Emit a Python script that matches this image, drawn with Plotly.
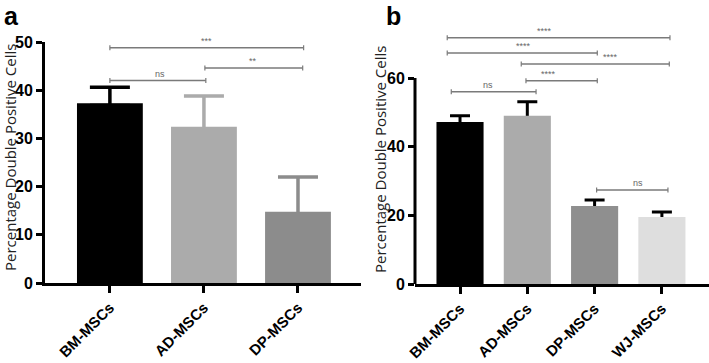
import plotly.graph_objects as go

# ---------------- data ----------------
cats_a = ["BM-MSCs", "AD-MSCs", "DP-MSCs"]
mean_a = [37.3, 32.4, 14.8]
err_a = [3.3, 6.4, 7.2]
colors_a = ["#000000", "#ababab", "#8c8c8c"]

cats_b = ["BM-MSCs", "AD-MSCs", "DP-MSCs", "WJ-MSCs"]
mean_b = [47.2, 49.0, 22.7, 19.5]
err_b = [1.8, 4.1, 1.8, 1.5]
colors_b = ["#000000", "#ababab", "#8f8f8f", "#dedede"]

# significance brackets: start / end position (category units), level, label, label position
sig_a_x0 = [0.0, 1.01, 0.0]
sig_a_x1 = [2.06, 2.05, 1.02]
sig_a_y = [48.8, 44.6, 42.0]
sig_a_lab = ["***", "**", "ns"]
sig_a_labx = [1.03, 1.52, 0.53]

sig_b_x0 = [-0.19, -0.19, 0.91, 0.98, -0.13, 2.03]
sig_b_x1 = [3.12, 2.04, 3.11, 2.04, 1.13, 3.09]
sig_b_y = [71.7, 67.3, 64.1, 59.2, 56.0, 27.4]
sig_b_lab = ["****", "****", "****", "****", "ns", "ns"]
sig_b_labx = [1.26, 0.94, 2.23, 1.31, 0.42, 2.64]

yticks_a = [0, 10, 20, 30, 40, 50]
yticks_b = [0, 20, 40, 60]
ytitle = "Percentage Double Positive Cells"

TICKFONT = dict(family="Liberation Sans Narrow, Arial Narrow, Liberation Sans, Arial, sans-serif",
                size=16, color="#000000", weight="bold")
XTICKFONT = dict(family="Liberation Sans, Arial, sans-serif", size=15, color="#000000", weight="bold")

fig = go.Figure()

# Panel a: error bars in the bar colour (helper traces drawn behind the bars)
xs_a = list(range(len(cats_a)))
shift_a = 0.5
for i in xs_a:
    fig.add_trace(go.Bar(
        x=[i], y=[mean_a[i] - shift_a], width=0.7,
        marker=dict(color="rgba(0,0,0,0)", line=dict(width=0)),
        error_y=dict(type="data", symmetric=False, array=[err_a[i] + shift_a], arrayminus=[0],
                     color=colors_a[i], thickness=3.5, width=20),
        xaxis="x", yaxis="y", showlegend=False, hoverinfo="skip"))
fig.add_trace(go.Bar(
    x=xs_a, y=mean_a, width=0.7,
    marker=dict(color=colors_a, line=dict(width=0)),
    xaxis="x", yaxis="y", showlegend=False))

# Panel b: black error bars
xs_b = list(range(len(cats_b)))
shift_b = 0.7
fig.add_trace(go.Bar(
    x=xs_b, y=[m - shift_b for m in mean_b], width=0.7,
    marker=dict(color="rgba(0,0,0,0)", line=dict(width=0)),
    error_y=dict(type="data", symmetric=False, array=[e + shift_b for e in err_b],
                 arrayminus=[0] * len(err_b), color="#000000", thickness=3, width=10),
    xaxis="x2", yaxis="y2", showlegend=False, hoverinfo="skip"))
fig.add_trace(go.Bar(
    x=xs_b, y=mean_b, width=0.7,
    marker=dict(color=colors_b, line=dict(width=0)),
    xaxis="x2", yaxis="y2", showlegend=False))

shapes = []
annotations = []
SIGC = "#7a7a7a"

def add_sig(xref, yref, x0s, x1s, ys, labs, labxs, lab_size):
    for x0, x1, y, lab, lx in zip(x0s, x1s, ys, labs, labxs):
        shapes.append(dict(type="line", xref=xref, yref=yref, x0=x0, x1=x1, y0=y, y1=y,
                           line=dict(color=SIGC, width=1.5)))
        for xe in (x0, x1):
            shapes.append(dict(type="line", xref=xref, yref=yref, x0=xe, x1=xe,
                               ysizemode="pixel", yanchor=y, y0=-2.5, y1=2.5,
                               line=dict(color=SIGC, width=1.2)))
        annotations.append(dict(xref=xref, yref=yref, x=lx, y=y, text=lab,
                                showarrow=False, yanchor="bottom", yshift=0,
                                font=dict(family="Liberation Sans, Arial, sans-serif",
                                          size=lab_size, color="#666666")))

add_sig("x", "y", sig_a_x0, sig_a_x1, sig_a_y, sig_a_lab, sig_a_labx, 9)
add_sig("x2", "y2", sig_b_x0, sig_b_x1, sig_b_y, sig_b_lab, sig_b_labx, 9)

# panel b y-axis line (ends at 60, the axis range extends above for brackets)
shapes.append(dict(type="line", xref="x2 domain", yref="y2", x0=0, x1=0, y0=0, y1=60,
                   line=dict(color="#000000", width=3)))

# panel letters and y titles
annotations += [
    dict(xref="paper", yref="paper", x=2 / 709, y=1 - 0 / 363, xanchor="left", yanchor="top",
         text="<b>a</b>", showarrow=False,
         font=dict(family="Liberation Sans, Arial, sans-serif", size=25, color="#000000")),
    dict(xref="paper", yref="paper", x=384 / 709, y=1 - 0 / 363, xanchor="left", yanchor="top",
         text="<b>b</b>", showarrow=False,
         font=dict(family="Liberation Sans, Arial, sans-serif", size=25, color="#000000")),
    dict(xref="paper", yref="paper", x=10 / 709, y=1 - 158 / 363, xanchor="center", yanchor="middle",
         text=ytitle, textangle=-90, showarrow=False,
         font=dict(family="Open Sans, Liberation Sans, sans-serif", size=15, color="#222222")),
    dict(xref="paper", yref="paper", x=380 / 709, y=1 - 160 / 363, xanchor="center", yanchor="middle",
         text=ytitle, textangle=-90, showarrow=False,
         font=dict(family="Open Sans, Liberation Sans, sans-serif", size=15, color="#222222")),
]

common_x = dict(showline=True, linewidth=3, linecolor="#000000", ticks="outside", ticklen=7,
                tickwidth=3, tickcolor="#000000", showgrid=False, zeroline=False,
                tickangle=-45, tickfont=XTICKFONT, automargin=False)
common_y = dict(ticks="outside", ticklen=6, tickwidth=3, tickcolor="#000000", showgrid=False,
                zeroline=False, tickfont=TICKFONT, automargin=False)

fig.update_layout(
    width=709, height=363,
    margin=dict(l=0, r=0, t=0, b=0),
    paper_bgcolor="#ffffff", plot_bgcolor="#ffffff",
    barmode="overlay", showlegend=False,
    xaxis=dict(domain=[45 / 709, 361 / 709], range=[-0.69, 2.67], anchor="y",
               tickvals=xs_a, ticktext=cats_a, **common_x),
    yaxis=dict(domain=[(363 - 283) / 363, (363 - 42) / 363], range=[0, 50], anchor="x",
               tickvals=yticks_a, showline=True, linewidth=3, linecolor="#000000", **common_y),
    xaxis2=dict(domain=[415 / 709, 1.0], range=[-0.669, 3.70], anchor="y2",
                tickvals=xs_b, ticktext=cats_b, **common_x),
    yaxis2=dict(domain=[(363 - 284) / 363, (363 - 26.5) / 363], range=[0, 75], anchor="x2",
                tickvals=yticks_b, showline=False, **common_y),
    shapes=shapes, annotations=annotations,
)

fig.write_html("out.html", config={"displayModeBar": False},
               post_script="document.body.style.margin='0';document.body.style.padding='0';"
                           "document.body.style.overflow='hidden';")
